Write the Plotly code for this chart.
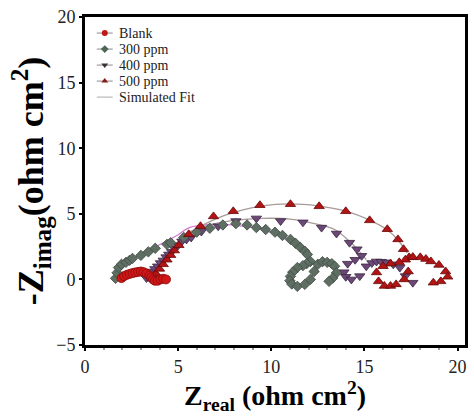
import plotly.graph_objects as go

# ---------------- data ----------------
blank_x = [1.96, 2.1, 2.25, 2.4, 2.55, 2.7, 2.85, 3.0, 3.15, 3.3, 3.45, 3.55, 3.65, 3.75, 3.9, 4.05, 4.2, 4.35]
blank_y = [0.1, 0.25, 0.35, 0.42, 0.48, 0.53, 0.57, 0.6, 0.55, 0.45, 0.3, 0.15, 0.0, -0.1, -0.1, 0.0, 0.05, 0.0]

ppm300_x = [1.64, 1.72, 1.8, 1.96, 2.2, 2.39, 2.55, 3.0, 3.4, 3.77, 4.4, 4.6, 5.3, 6.0, 6.7, 7.4, 8.1, 8.7, 9.2, 9.7, 10.2,
            10.6, 11.03, 11.3, 11.56, 11.8, 11.94, 12.1, 11.9, 11.7, 11.4, 11.15, 11.03, 11.0, 11.1, 11.4, 11.8, 12.1,
            12.3, 12.5, 12.75, 13.0, 13.25, 13.4, 13.5, 13.3, 13.1]
ppm300_y = [0.08, 0.5, 0.9, 1.15, 1.3, 1.45, 1.6, 1.83, 2.1, 2.37, 2.67, 2.8, 3.2, 3.6, 3.9, 4.15, 4.25, 4.15, 3.95, 3.8, 3.6,
            3.35, 3.05, 2.75, 2.44, 2.15, 1.9, 1.37, 1.2, 1.05, 0.9, 0.55, 0.23, -0.1, -0.35, -0.53, -0.38, 0.0,
            0.6, 1.15, 1.35, 1.3, 1.2, 1.0, 0.5, 0.1, -0.15]

ppm400_x = [3.3, 3.45, 3.6, 3.75, 3.9, 4.05, 4.2, 4.35, 4.5, 4.65, 4.8, 5.0, 5.2, 5.45, 5.7, 6.25, 7.15, 8.1, 9.2, 10.5,
            11.7, 12.7, 13.5, 14.2, 14.6, 14.85, 14.5, 14.1, 13.9, 14.0, 14.3, 14.75, 15.1, 15.4, 15.65, 15.9, 16.2,
            16.55, 16.9, 17.2, 17.6]
ppm400_y = [0.1, 0.35, 0.6, 0.8, 1.0, 1.25, 1.45, 1.7, 1.9, 2.1, 2.35, 2.6, 2.9, 3.05, 3.2, 3.65, 4.05, 4.45, 4.65, 4.45,
            4.35, 3.95, 3.5, 2.8, 2.3, 1.8, 1.5, 1.2, 0.55, 0.2, 0.0, 0.25, 1.0, 1.25, 1.37, 1.35, 1.3,
            1.15, 0.9, 0.25, -0.25]

ppm500_x = [3.6, 3.8, 4.0, 4.2, 4.4, 4.6, 4.8, 5.04, 5.57, 6.2, 6.9, 7.96, 9.39, 11.03, 12.57, 14.0, 15.28, 16.23, 16.8,
            17.1, 17.4, 17.2, 16.87, 16.4, 16.0, 15.65, 15.76, 16.07, 16.4, 16.7, 17.13, 17.35, 17.6, 18.0, 18.3,
            18.57, 19.0, 19.36, 19.47, 19.1, 18.7]
ppm500_y = [0.1, 0.45, 0.8, 1.15, 1.5, 1.85, 2.2, 2.6, 3.44, 4.05, 4.8, 5.19, 5.65, 5.73, 5.57, 5.19, 4.5, 3.82, 3.05,
            2.3, 1.68, 1.5, 1.3, 1.2, 1.0, 0.53, -0.15, -0.5, -0.5, -0.38, 0.0, 0.6, 1.7, 1.68, 1.55,
            1.37, 1.1, 0.6, 0.2, -0.15, -0.25]

fit300_x = [1.6, 2.5, 3.8, 5.0, 5.6, 6.8, 8.2, 9.6, 10.3, 11.0, 11.6, 12.0, 12.1, 11.6, 11.1, 11.0, 11.3, 11.8, 12.1, 12.4, 13.0]
fit300_y = [0.3, 1.5, 2.5, 3.4, 3.95, 4.2, 4.1, 3.8, 3.4, 3.0, 2.4, 1.8, 1.3, 1.0, 0.5, 0.0, -0.4, -0.4, 0.0, 0.9, 1.35]

fit400_x = [4.5, 5.5, 6.8, 8.0, 9.5, 11.0, 12.5, 13.4, 14.2, 14.75, 15.1]
fit400_y = [2.1, 3.5, 4.2, 4.5, 4.65, 4.6, 4.2, 3.8, 2.9, 2.1, 1.5]

fit500_x = [5.0, 6.0, 7.0, 8.0, 9.5, 11.0, 12.5, 14.0, 15.3, 16.2, 16.8, 17.3]
fit500_y = [3.0, 3.9, 4.6, 5.1, 5.6, 5.75, 5.6, 5.2, 4.5, 3.8, 3.0, 2.0]

x_ticks = [0, 5, 10, 15, 20]
y_ticks = [-5, 0, 5, 10, 15, 20]

legend_names = ["Blank", "300 ppm", "400 ppm", "500 ppm", "Simulated Fit"]

# ---------------- styles ----------------
FONT = "Liberation Serif, Times New Roman, serif"
FIT_PINK = "#d27ad2"
FIT_GRAY = "#a89a98"

series = [
    ("Blank", blank_x, blank_y, "circle", "#d01818", "#8a0a0a", 9, "#c01818"),
    ("300 ppm", ppm300_x, ppm300_y, "diamond", "#5e6e62", "#3f4a42", 8, "#4e6656"),
    ("400 ppm", ppm400_x, ppm400_y, "triangle-down", "#6c4878", "#3a2440", 9, "#3a3034"),
    ("500 ppm", ppm500_x, ppm500_y, "triangle-up", "#b01414", "#6a0808", 9, "#8a1818"),
]

fig = go.Figure()

# simulated fit lines
for fx, fy, col in [(fit300_x, fit300_y, FIT_PINK), (fit400_x, fit400_y, FIT_GRAY), (fit500_x, fit500_y, FIT_GRAY)]:
    fig.add_trace(go.Scatter(x=fx, y=fy, mode="lines", line=dict(color=col, width=1.3, shape="spline"),
                             showlegend=False, hoverinfo="skip"))

for name, xs, ys, sym, fill, edge, size, _ in [series[2], series[1], series[3], series[0]]:
    fig.add_trace(go.Scatter(x=xs, y=ys, mode="markers", name=name, showlegend=False,
                             marker=dict(symbol=sym, color=fill, size=size, line=dict(color=edge, width=0.8))))

# ---- compact legend drawn on an overlay axis in [0,1] units (top-left of plot area) ----
LEG_X0, LEG_X1, LEG_XM, LEG_TX = 0.031, 0.073, 0.052, 0.084
LEG_Y0, LEG_DY = 0.951, 0.0488
for i, name in enumerate(legend_names):
    ry = LEG_Y0 - i * LEG_DY
    if i < len(series):
        s = series[i]
        fig.add_trace(go.Scatter(x=[LEG_X0, LEG_X1], y=[ry, ry], mode="lines", xaxis="x2", yaxis="y2",
                                 line=dict(color="#8a8a8a", width=1), showlegend=False, hoverinfo="skip"))
        fig.add_trace(go.Scatter(x=[LEG_XM], y=[ry], mode="markers", xaxis="x2", yaxis="y2",
                                 marker=dict(symbol=s[3], color=s[7], size=6), showlegend=False, hoverinfo="skip"))
    else:
        fig.add_trace(go.Scatter(x=[LEG_X0, LEG_X1], y=[ry, ry], mode="lines", xaxis="x2", yaxis="y2",
                                 line=dict(color="#aaaaaa", width=1), showlegend=False, hoverinfo="skip"))
    fig.add_annotation(x=LEG_TX, y=ry, xref="paper", yref="paper", text=name, showarrow=False,
                       xanchor="left", yanchor="middle", font=dict(family=FONT, size=14, color="#222222"))

fig.update_layout(
    width=474, height=417,
    margin=dict(l=85, r=6, t=17, b=72),
    paper_bgcolor="white", plot_bgcolor="white",
    font=dict(family=FONT, color="black"),
    showlegend=False,
    xaxis2=dict(overlaying="x", range=[0, 1], visible=False, fixedrange=True),
    yaxis2=dict(overlaying="y", range=[0, 1], visible=False, fixedrange=True),
)
fig.layout.xaxis.update(range=[0, 20.4], tickvals=x_ticks, showgrid=False, zeroline=False,
                        showline=True, linewidth=3, linecolor="black", mirror=True,
                        ticks="outside", ticklen=3, tickwidth=1.5, tickcolor="black",
                        minor=dict(dtick=1, ticks="outside", ticklen=2, tickcolor="#999999"),
                        tickfont=dict(family=FONT, size=18, color="#222222"),
                        title=dict(text="<b>Z<sub>real</sub> (ohm cm<sup>2</sup>)</b>",
                                   font=dict(family=FONT, size=28, color="black"), standoff=4))
fig.layout.yaxis.update(range=[-5, 20], tickvals=y_ticks, showgrid=False, zeroline=False,
                        showline=True, linewidth=3, linecolor="black", mirror=True,
                        ticks="outside", ticklen=3, tickwidth=1.5, tickcolor="black",
                        tickfont=dict(family=FONT, size=18, color="#222222"),
                        title=dict(text="<b>-Z<sub>imag</sub>(ohm cm<sup>2</sup>)</b>",
                                   font=dict(family=FONT, size=36, color="black"), standoff=2))

fig.write_html("out.html")
